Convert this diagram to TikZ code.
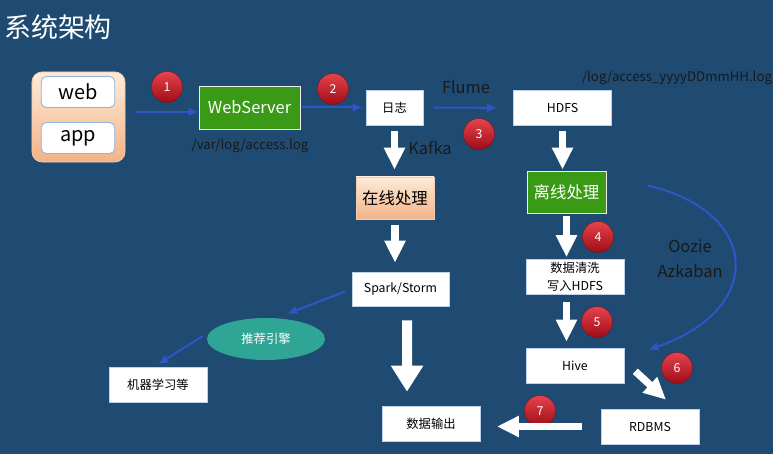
\documentclass[tikz,border=0pt]{standalone}
\usepackage{fontspec}
\setmainfont{Noto Sans CJK SC}
\usetikzlibrary{arrows.meta,shapes.geometric}
\definecolor{nbg}{HTML}{1F4B72}
\definecolor{nblue}{HTML}{2E56C6}
\definecolor{ngreen}{HTML}{3A9A16}
\definecolor{npeachtop}{HTML}{FDEBD9}
\definecolor{npeachbot}{HTML}{F2B386}
\definecolor{nteal}{HTML}{2FA595}
\definecolor{nredtop}{HTML}{E5434D}
\definecolor{nredbot}{HTML}{A00C16}
\definecolor{nframe}{HTML}{8FB3DA}

\begin{document}
\begin{tikzpicture}[x=0.03cm, y=-0.03cm,
  wbox/.style={draw=nframe!60, fill=white, minimum width=2.94cm, minimum height=1.05cm, inner sep=1pt, align=center, font=\fontsize{10.5}{15}\selectfont, line width=0.5pt},
  gbox/.style={draw=white!85!gray, fill=ngreen, text=white, line width=0.8pt, font=\fontsize{14}{16}\selectfont},
  pbox/.style={top color=npeachtop, bottom color=npeachbot, draw=npeachbot!70, line width=0.6pt},
  ibox/.style={draw=nframe, fill=white, rounded corners=0.15cm, minimum width=2.2cm, minimum height=0.93cm, line width=0.7pt, font=\fontsize{17}{20}\selectfont},
  num/.style={circle, top color=nredtop, bottom color=nredbot, draw=nredbot!80!black, line width=0.3pt, minimum size=0.93cm, inner sep=0pt, text=white, font=\fontsize{10.5}{12}\selectfont},
  barr/.style={-{Latex[length=3mm,width=2.7mm]}, line width=0.6mm, nblue},
  warr/.style={-{Triangle[width=6mm,length=6.6mm]}, line width=2.2mm, white},
  bigarr/.style={-{Triangle[width=9.2mm,length=7.8mm]}, line width=3mm, white},
  lbl/.style={text=black!90, font=\fontsize{14}{16}\selectfont},
  path/.style={text=black!90, font=\fontsize{11.3}{13}\selectfont}]
 \fill[nbg] (0,0) rectangle (773,454);
 \useasboundingbox (0,0) rectangle (773,454);
 \node[text=white, font=\fontsize{23}{26}\selectfont] (title) at (58,27) {系统架构};
 % sources and collection
 \node[pbox, rounded corners=0.3cm, minimum width=2.79cm, minimum height=2.7cm] (client) at (78.5,117) {};
 \node[ibox] (web) at (78,92) {web};
 \node[ibox] (app) at (78,138) {app};
 \node[gbox, minimum width=3.03cm, minimum height=1.29cm] (ws) at (249.5,107.5) {WebServer};
 \node[path] (wslog) at (250,146) {/var/log/access.log};
 \node[wbox, minimum width=1.71cm] (log) at (394.5,107.5) {日志};
 \node[wbox] (hdfs) at (562.5,108) {HDFS};
 \node[path] (hdfslog) at (677,78) {/log/access\_yyyyDDmmHH.log};
 \node[lbl] (flume) at (466,87) {Flume};
 \node[lbl] (kafka) at (430,148) {Kafka};
 % online branch
 \node[pbox, minimum width=2.34cm, minimum height=1.26cm, font=\fontsize{14}{16}\selectfont] (online) at (395,198) {在线处理};
 \node[wbox, minimum width=2.91cm, minimum height=1.02cm] (spark) at (400.5,289) {Spark/Storm};
 \node[ellipse, fill=nteal, text=white, minimum width=3.54cm, minimum height=1.26cm, font=\fontsize{10.5}{12}\selectfont] (engine) at (266,339) {推荐引擎};
 \node[wbox] (ml) at (158,385) {机器学习等};
 \node[wbox] (out) at (431,423.5) {数据输出};
 % offline branch
 \node[gbox, minimum width=2.37cm, minimum height=1.26cm] (offline) at (566.5,192) {离线处理};
 \node[wbox] (clean) at (575,277) {数据清洗\\写入HDFS};
 \node[wbox] (hive) at (575,365.5) {Hive};
 \node[wbox] (rdbms) at (650,426.5) {RDBMS};
 \node[lbl] (oozie) at (690,246) {Oozie};
 \node[lbl] (azkaban) at (690,271) {Azkaban};
 \foreach \n/\x/\y in {1/167/87, 2/333/89, 3/479/134, 4/598/237, 5/597/322, 6/677/368, 7/540/411}
   \node[num] (c\n) at (\x,\y) {\n};
 % connectors
 \draw[barr, shorten <=0.3cm] ([yshift=-0.13cm]ws.west -| client.east) -- ([yshift=-0.13cm]ws.west);
 \draw[barr, shorten <=0.06cm, shorten >=0.09cm] (ws) -- (log);
 \draw[barr, shorten <=0.3cm, shorten >=0.48cm] (log) -- (hdfs);
 \draw[warr, shorten <=0.16cm, shorten >=0.21cm] (log.south) -- (log.south |- online.north);
 \draw[warr, shorten <=0.18cm, shorten >=0.27cm] (online.south) -- (online.south |- spark.north);
 \draw[warr, shorten <=0.16cm, shorten >=0.03cm] (hdfs.south) -- (hdfs.south |- offline.north);
 \draw[warr, shorten <=0.09cm, shorten >=0.06cm] (offline.south) -- (offline.south |- clean.north);
 \draw[warr, shorten <=0.21cm, shorten >=0.18cm] (offline.south |- clean.south) -- (offline.south |- hive.north);
 \draw[bigarr] ([xshift=0.2cm,yshift=-0.42cm]spark.south) -- ([xshift=-0.72cm,yshift=0.42cm]out.north);
 \draw[warr] ([xshift=0.33cm,yshift=0.36cm]hive.south east) -- ([xshift=0.48cm,yshift=0.27cm]rdbms.north);
 \draw[warr, shorten <=0.57cm, shorten >=0.5cm] (rdbms.west) -- (rdbms.west -| out.east);
 \draw[barr, shorten <=0.21cm] (spark.west) -- ([xshift=0.63cm,yshift=0.12cm]engine.north);
 \draw[barr] ([xshift=-0.12cm,yshift=0.09cm]engine.west) -- ([yshift=0.09cm]ml.north);
 \draw[barr] ([xshift=1.26cm,yshift=-0.45cm]offline.north east) .. controls +(115,28) and +(115,-39) .. ([xshift=0.72cm,yshift=-0.06cm]hive.north east);
\end{tikzpicture}
\end{document}
